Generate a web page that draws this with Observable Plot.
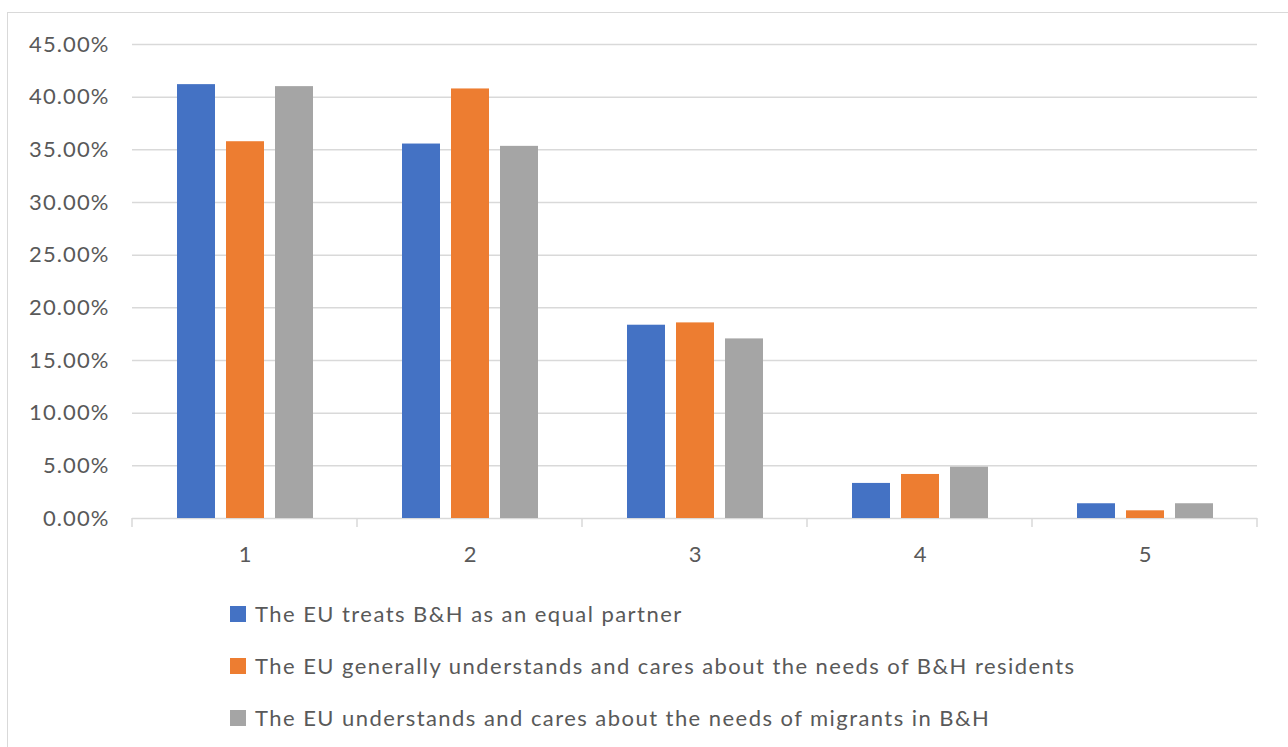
<!DOCTYPE html>
<html>
<head>
<meta charset="utf-8">
<script src="https://cdn.jsdelivr.net/npm/d3@7"></script>
<script src="https://cdn.jsdelivr.net/npm/@observablehq/plot@0.6"></script>
<style>
  html, body { margin: 0; padding: 0; background: #fff; }
  body { width: 1288px; height: 747px; position: relative; overflow: hidden; font-family: Lato, "Open Sans", sans-serif; }
  #frame { position: absolute; left: 7px; top: 12px; width: 1300px; height: 800px; border: 1px solid #d9d9d9; box-sizing: border-box; }
  #chart { position: absolute; left: 0; top: 0; }
  #legend { position: absolute; left: 230px; top: 600px; }
  .item { position: absolute; left: 0; white-space: nowrap; height: 28px; }
  .swatch { position: absolute; left: 0; top: 6px; width: 16px; height: 16px; }
  .label { position: absolute; left: 25px; top: 0; font-size: 22px; line-height: 28px; color: #595959; letter-spacing: 1.45px; }
</style>
</head>
<body>
<div id="frame"></div>
<div id="chart"></div>
<div id="legend"></div>
<script>
// Survey response categories (scale points 1–5)
const categories = ["1", "2", "3", "4", "5"];

// Statements (series)
const series = [
  "The EU treats B&H as an equal partner",
  "The EU generally understands and cares about the needs of B&H residents",
  "The EU understands and cares about the needs of migrants in B&H"
];
const colors = ["#4472C4", "#ED7D31", "#A5A5A5"];

// Share of respondents per category, one array per statement
const equalPartner   = [0.4119, 0.3555, 0.1835, 0.0333, 0.0140];
const residentsNeeds = [0.3577, 0.4078, 0.1857, 0.0418, 0.0073];
const migrantsNeeds  = [0.4100, 0.3533, 0.1705, 0.0488, 0.0140];

// Y axis tick values
const yTicks = [0, 0.05, 0.10, 0.15, 0.20, 0.25, 0.30, 0.35, 0.40, 0.45];

const valuesBySeries = [equalPartner, residentsNeeds, migrantsNeeds];
const rows = [];
categories.forEach((c, i) => {
  series.forEach((s, j) => rows.push({category: c, series: s, value: valuesBySeries[j][i]}));
});

const gridColor = "#d9d9d9";
const textColor = "#595959";

const chart = Plot.plot({
  width: 1288,
  height: 580,
  marginLeft: 130,
  marginRight: 30,
  marginTop: 44,
  marginBottom: 62,
  style: {fontFamily: "Lato, 'Open Sans', sans-serif", fontSize: "22px", color: textColor, background: "transparent"},
  fx: {domain: categories, padding: 0, label: null},
  x: {domain: series, paddingInner: 0.234, paddingOuter: 0.873, axis: null},
  y: {domain: [0, 0.45], label: null},
  color: {domain: series, range: colors},
  marks: [
    Plot.gridY(yTicks, {stroke: gridColor, strokeOpacity: 1, strokeWidth: 1.5}),
    Plot.axisY(yTicks, {tickFormat: d3.format(".2%"), tickSize: 0, tickPadding: 23, fontSize: 22, fill: textColor, label: null}),
    Plot.axisFx({anchor: "bottom", tickSize: 0, tickPadding: 28, fontSize: 22, fill: textColor, label: null}),
    Plot.barY(rows, {fx: "category", x: "series", y: "value", fill: "series"})
  ]
});
document.getElementById("chart").appendChild(chart);

// Slightly wider tracking on the percentage labels
d3.select(chart).selectAll("[aria-label='y-axis tick label'] text").attr("letter-spacing", "1.1px");

// Category separators: short ticks below the baseline at each band boundary
const fx = chart.scale("fx");
const y = chart.scale("y");
const y0 = y.apply(0);
const bounds = categories.map(c => fx.apply(c));
bounds.push(fx.apply(categories[categories.length - 1]) + fx.bandwidth);
d3.select(chart).append("g")
  .selectAll("line")
  .data(bounds)
  .join("line")
  .attr("x1", d => d).attr("x2", d => d)
  .attr("y1", y0).attr("y2", y0 + 9)
  .attr("stroke", gridColor)
  .attr("stroke-width", 1.5);

// Legend
const legend = d3.select("#legend");
series.forEach((s, i) => {
  const item = legend.append("div").attr("class", "item").style("top", `${i * 52}px`);
  item.append("div").attr("class", "swatch").style("background", colors[i]);
  item.append("div").attr("class", "label").text(s);
});
</script>
</body>
</html>
